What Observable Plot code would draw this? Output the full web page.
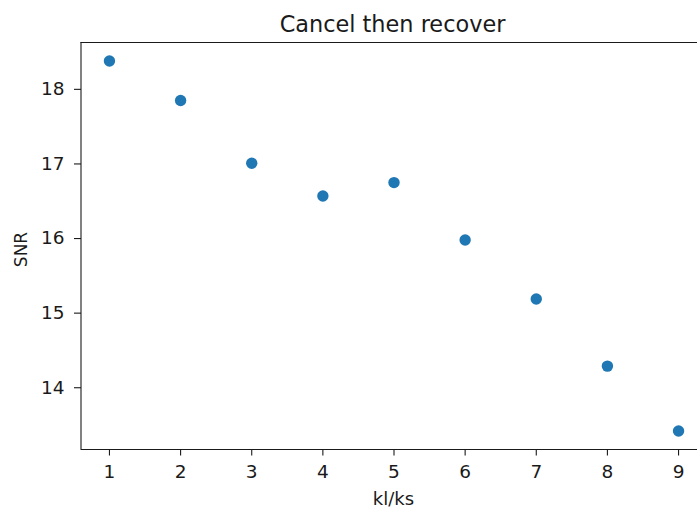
<!DOCTYPE html>
<html><head><meta charset="utf-8">
<script src="https://cdn.jsdelivr.net/npm/d3@7"></script>
<script src="https://cdn.jsdelivr.net/npm/@observablehq/plot@0.6"></script>
<style>html,body{margin:0;padding:0;background:#fff} svg{display:block}</style>
</head><body><div id="chart"></div>
<script>
const kRatio = [1, 2, 3, 4, 5, 6, 7, 8, 9];
const snrValues = [18.38, 17.85, 17.01, 16.57, 16.75, 15.98, 15.19, 14.29, 13.42];
const xTicks = [1, 2, 3, 4, 5, 6, 7, 8, 9];
const yTicks = [14, 15, 16, 17, 18];
const titleText = "Cancel then recover";
const xLabelText = "kl/ks";
const yLabelText = "SNR";

const data = kRatio.map((k, i) => ({k, snr: snrValues[i]}));
const xDomain = [0.6, 9.4];
const yDomain = [13.172, 18.628];
const ink = "#1a1a1a";

const chart = Plot.plot({
  width: 697, height: 511,
  marginLeft: 81, marginRight: 0, marginTop: 42, marginBottom: 62,
  style: {fontFamily: "'DejaVu Sans', sans-serif", fontSize: "18.5px", color: ink, background: "#fff", overflow: "hidden"},
  x: {domain: xDomain, range: [80.5, 706.5]},
  y: {domain: yDomain, range: [449, 42]},
  marks: [
    Plot.ruleY([yDomain[0], yDomain[1]], {x1: xDomain[0], x2: xDomain[1], stroke: ink, strokeWidth: 1.1}),
    Plot.ruleX([xDomain[0], xDomain[1]], {y1: yDomain[0], y2: yDomain[1], stroke: ink, strokeWidth: 1.1}),
    Plot.axisX(xTicks, {tickSize: 6.5, tickPadding: 8.4, tickFormat: d => String(d), label: null, stroke: ink, fill: ink, strokeWidth: 1.1, fontSize: 18.5}),
    Plot.axisY(yTicks, {tickSize: 7, tickPadding: 10, tickFormat: d => String(d), label: null, stroke: ink, fill: ink, strokeWidth: 1.1, fontSize: 18.5}),
    Plot.dot(data, {x: "k", y: "snr", r: 5.7, fill: "#1f77b4", stroke: null}),
    Plot.text([titleText], {frameAnchor: "top", dx: 3, dy: -17.5, lineAnchor: "middle", fontSize: 22.4, fill: ink}),
    Plot.text([xLabelText], {frameAnchor: "bottom", dx: 4, dy: 50, lineAnchor: "middle", fontSize: 18, fill: ink}),
    Plot.text([yLabelText], {frameAnchor: "left", dx: -60, dy: 3.5, rotate: -90, textAnchor: "middle", lineAnchor: "middle", fontSize: 17, fill: ink})
  ]
});
document.getElementById("chart").append(chart);
</script>
</body></html>
